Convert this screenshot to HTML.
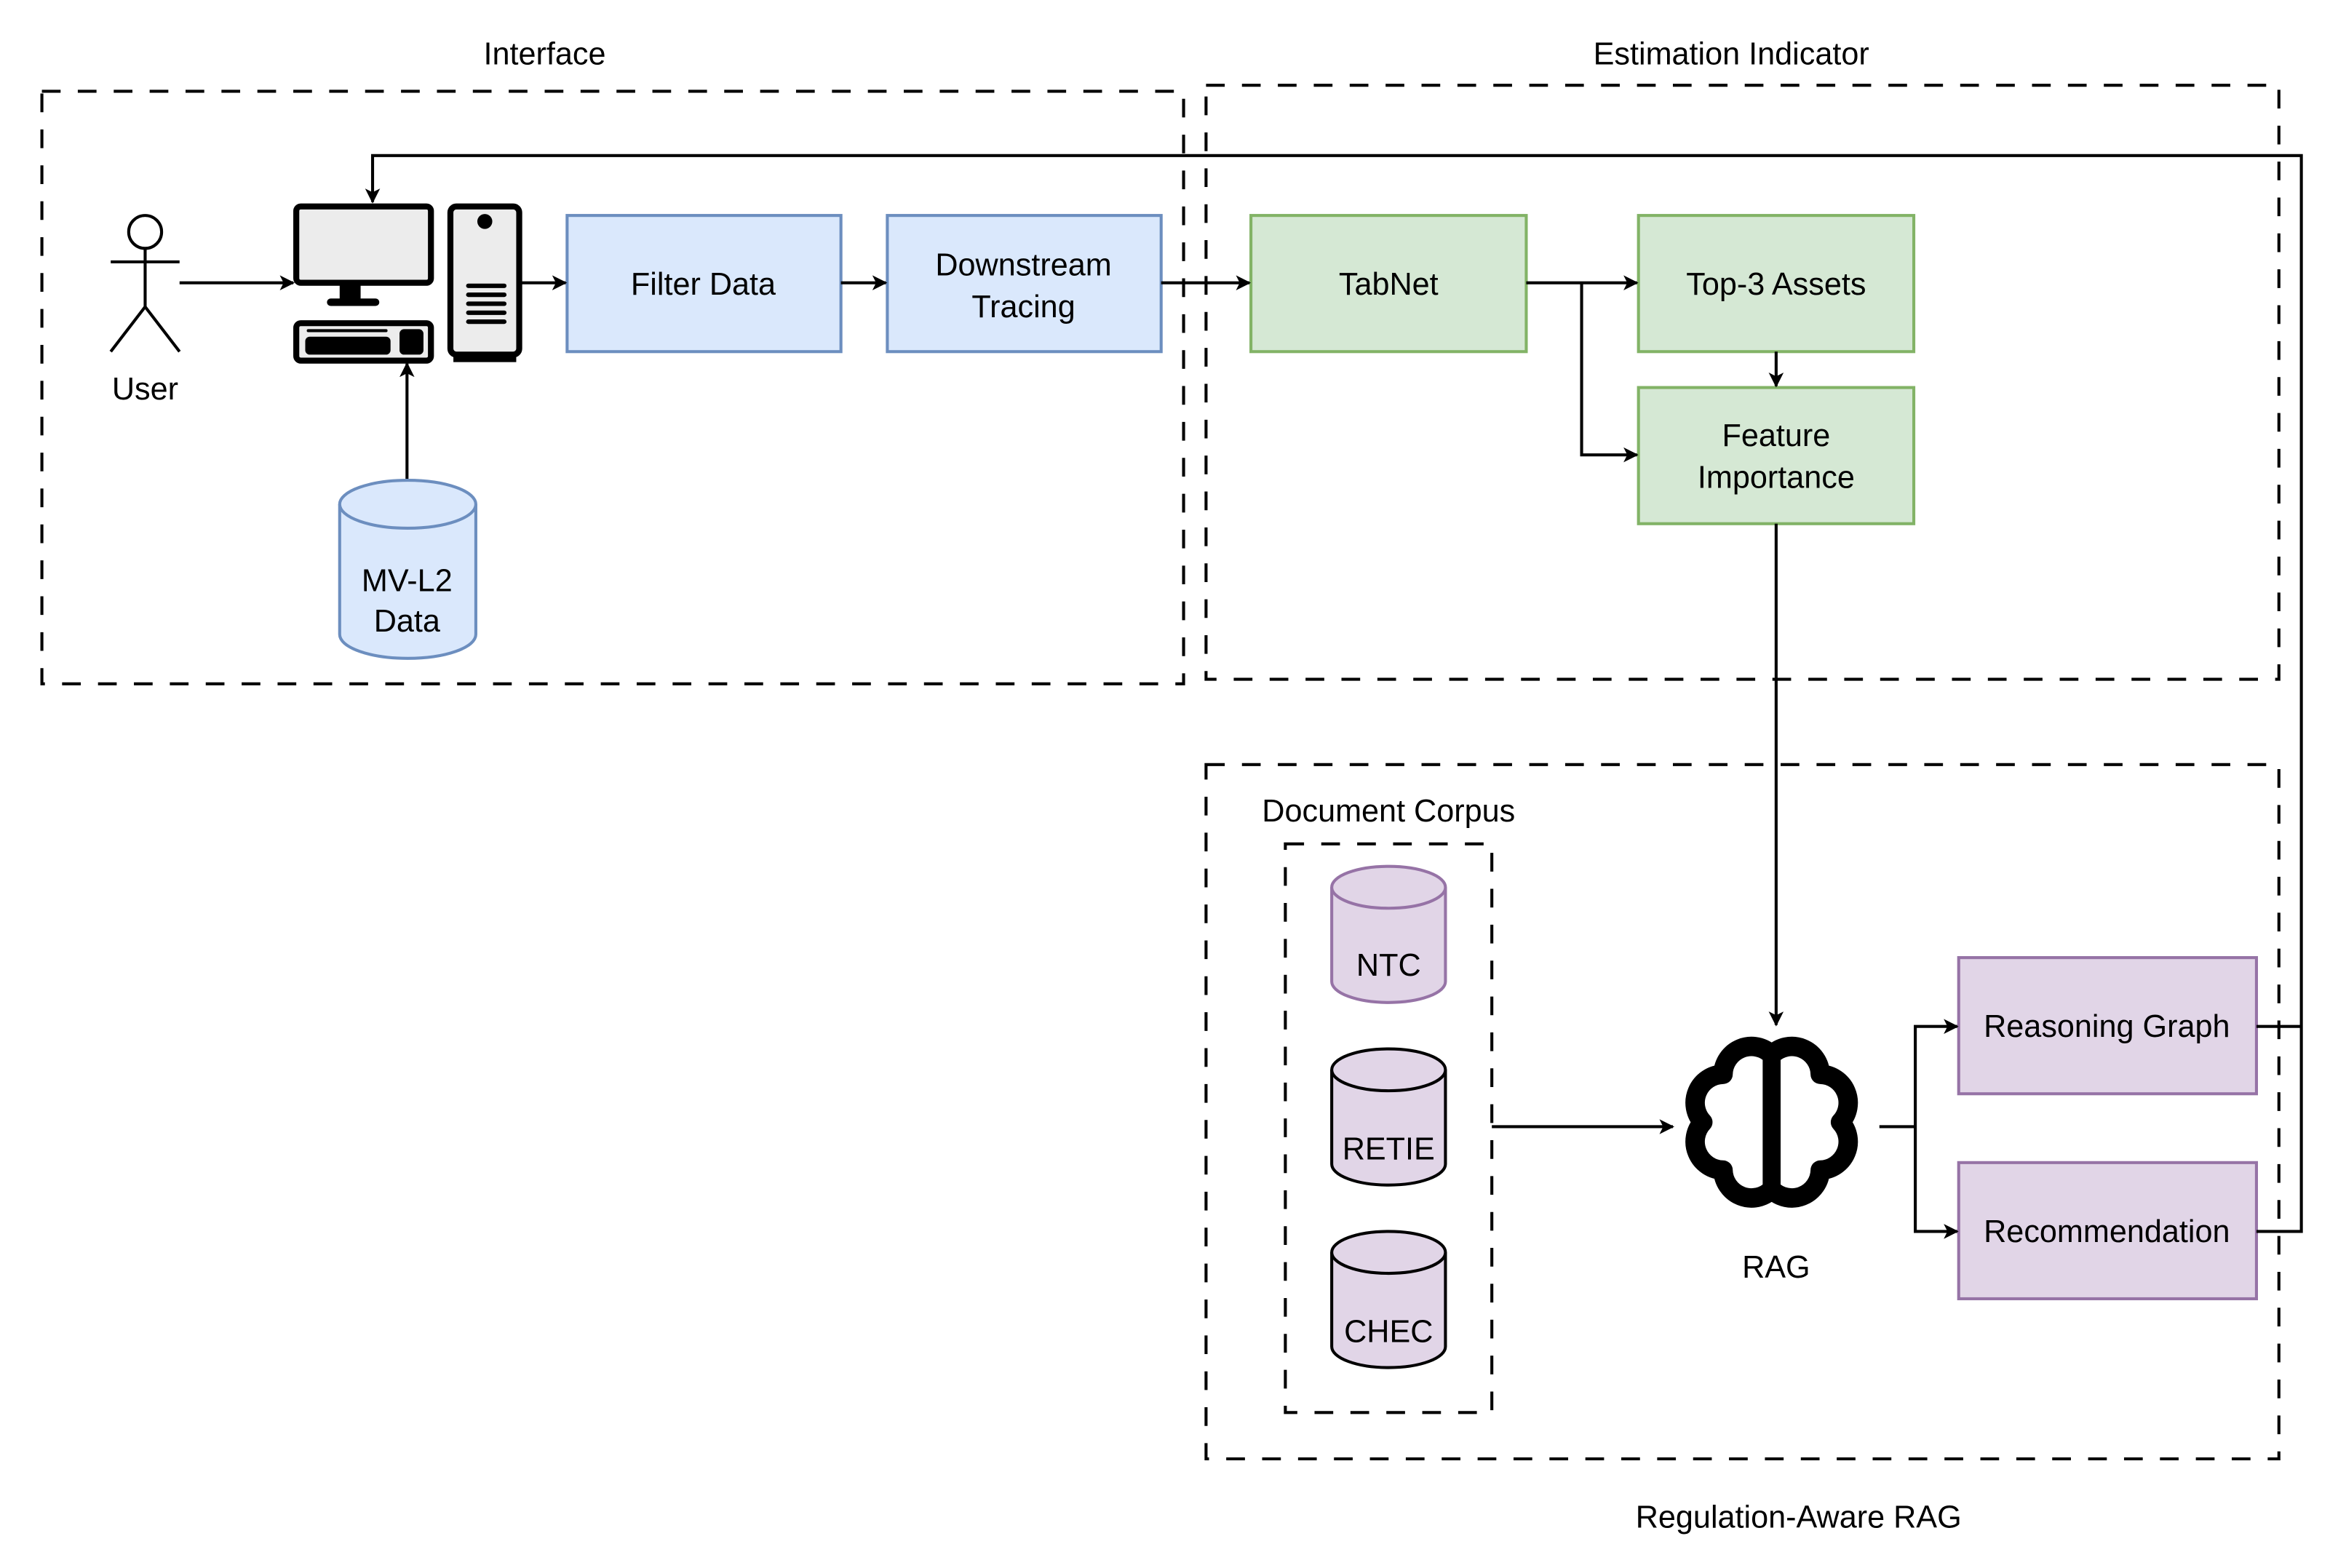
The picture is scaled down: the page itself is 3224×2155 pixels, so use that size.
<!DOCTYPE html>
<html><head><meta charset="utf-8"><style>html,body{margin:0;padding:0;background:#fff}svg{display:block}</style></head><body>
<svg width="3224" height="2155" viewBox="0 0 1560 1042.7" preserveAspectRatio="none" xmlns="http://www.w3.org/2000/svg" font-family="Liberation Sans, sans-serif" font-size="21">
<defs><marker id="a" markerWidth="10" markerHeight="10" refX="9" refY="5" orient="auto" markerUnits="userSpaceOnUse"><path d="M0,0 L10,5 L0,10 L2.5,5 Z" fill="#000"/></marker></defs>
<g transform="scale(0.995)">
<g fill="none" stroke="#000" stroke-width="2" stroke-dasharray="12.5,11.5">
<rect x="28" y="61" width="763" height="396"/>
<rect x="806" y="57" width="717" height="397"/>
<rect x="806" y="511" width="717" height="464"/>
<rect x="859" y="564" width="138" height="380"/>
</g>
<g text-anchor="middle" fill="#000">
<text x="364" y="43">Interface</text>
<text x="1157" y="43">Estimation Indicator</text>
<text x="1202" y="1021">Regulation-Aware RAG</text>
<text x="928" y="549">Document Corpus</text>
<text x="97" y="267">User</text>
<text x="1187" y="854">RAG</text>
</g>
<g stroke="#000" stroke-width="2" fill="none">
<circle cx="97" cy="155" r="11" fill="#fff"/>
<line x1="97" y1="166" x2="97" y2="205"/>
<line x1="74" y1="175" x2="120" y2="175"/>
<line x1="97" y1="205" x2="74" y2="235"/><line x1="97" y1="205" x2="120" y2="235"/>
</g>
<g stroke="#000" stroke-width="4">
<rect x="198" y="138" width="90" height="51" rx="3" fill="#ececec"/>
<rect x="229" y="189" width="10" height="12" fill="#000"/>
<line x1="221" y1="202" x2="251" y2="202" stroke-width="5" stroke-linecap="round"/>
<rect x="198" y="216" width="90" height="25" rx="3" fill="#ececec"/>
<rect x="301" y="138" width="46" height="99" rx="4" fill="#ececec"/>
</g>
<rect x="303" y="237" width="42" height="5" fill="#000"/>
<circle cx="324" cy="148" r="5" fill="#000"/>
<g stroke="#000" stroke-width="3" stroke-linecap="round">
<line x1="313" y1="191" x2="337" y2="191"/><line x1="313" y1="197" x2="337" y2="197"/><line x1="313" y1="203" x2="337" y2="203"/><line x1="313" y1="209" x2="337" y2="209"/><line x1="313" y1="215" x2="337" y2="215"/>
<line x1="206" y1="221" x2="258" y2="221" stroke-width="2"/>
</g>
<rect x="204" y="225" width="57" height="12" rx="3" fill="#000"/>
<rect x="267" y="220" width="16" height="17" rx="3" fill="#000"/>
<g stroke-width="2">
<rect x="379" y="144" width="183" height="91" fill="#dae8fc" stroke="#6c8ebf"/>
<rect x="593" y="144" width="183" height="91" fill="#dae8fc" stroke="#6c8ebf"/>
<rect x="836" y="144" width="184" height="91" fill="#d5e8d4" stroke="#82b366"/>
<rect x="1095" y="144" width="184" height="91" fill="#d5e8d4" stroke="#82b366"/>
<rect x="1095" y="259" width="184" height="91" fill="#d5e8d4" stroke="#82b366"/>
<rect x="1309" y="640" width="199" height="91" fill="#e1d5e7" stroke="#9673a6"/>
<rect x="1309" y="777" width="199" height="91" fill="#e1d5e7" stroke="#9673a6"/>
</g>
<g text-anchor="middle">
<text x="470" y="197">Filter Data</text>
<text x="684" y="184">Downstream</text><text x="684" y="212">Tracing</text>
<text x="928" y="197">TabNet</text>
<text x="1187" y="197">Top-3 Assets</text>
<text x="1187" y="298">Feature</text><text x="1187" y="326">Importance</text>
<text x="1408" y="693">Reasoning Graph</text>
<text x="1408" y="830">Recommendation</text>
</g>
<g stroke-width="2">
<path d="M227,337 v87 a45.5,16 0 0 0 91,0 v-87" fill="#dae8fc" stroke="#6c8ebf"/>
<ellipse cx="272.5" cy="337" rx="45.5" ry="16" fill="#dae8fc" stroke="#6c8ebf"/>
<path d="M890,593 v63 a38,14 0 0 0 76,0 v-63" fill="#e1d5e7" stroke="#9673a6"/>
<ellipse cx="928" cy="593" rx="38" ry="14" fill="#e1d5e7" stroke="#9673a6"/>
<path d="M890,715 v63 a38,14 0 0 0 76,0 v-63" fill="#e1d5e7" stroke="#000"/>
<ellipse cx="928" cy="715" rx="38" ry="14" fill="#e1d5e7" stroke="#000"/>
<path d="M890,837 v63 a38,14 0 0 0 76,0 v-63" fill="#e1d5e7" stroke="#000"/>
<ellipse cx="928" cy="837" rx="38" ry="14" fill="#e1d5e7" stroke="#000"/>
</g>
<g text-anchor="middle">
<text x="272" y="395">MV-L2</text><text x="272" y="422">Data</text>
<text x="928" y="652">NTC</text>
<text x="928" y="775">RETIE</text>
<text x="928" y="897">CHEC</text>
</g>
<g stroke="#000" fill="none">
<path d="M1184,705 A19,19 0 0 1 1216.5,718 A19,19 0 0 1 1230,750 A19,19 0 0 1 1216.5,782 A19,19 0 0 1 1184,795 A19,19 0 0 1 1151.5,782 A19,19 0 0 1 1138,750 A19,19 0 0 1 1151.5,718 A19,19 0 0 1 1184,705 Z" stroke-width="13" stroke-linejoin="round"/>
<line x1="1184" y1="705" x2="1184" y2="795" stroke-width="12"/>
</g>
<g stroke="#000" stroke-width="2" fill="none">
<line x1="120" y1="189" x2="196" y2="189" marker-end="url(#a)"/>
<line x1="348" y1="189" x2="378" y2="189" marker-end="url(#a)"/>
<line x1="562" y1="189" x2="592" y2="189" marker-end="url(#a)"/>
<line x1="776" y1="189" x2="835" y2="189" marker-end="url(#a)"/>
<line x1="1020" y1="189" x2="1094" y2="189" marker-end="url(#a)"/>
<polyline points="1057,189 1057,304 1094,304" marker-end="url(#a)"/>
<line x1="1187" y1="235" x2="1187" y2="258" marker-end="url(#a)"/>
<line x1="1187" y1="350" x2="1187" y2="685" marker-end="url(#a)"/>
<line x1="272" y1="320" x2="272" y2="243" marker-end="url(#a)"/>
<line x1="997" y1="753" x2="1118" y2="753" marker-end="url(#a)"/>
<polyline points="1256,753 1280,753"/>
<polyline points="1280,753 1280,686 1308,686" marker-end="url(#a)"/>
<polyline points="1280,753 1280,823 1308,823" marker-end="url(#a)"/>
<polyline points="1508,686 1538,686"/>
<polyline points="1508,823 1538,823 1538,104 249,104 249,135" marker-end="url(#a)"/>
</g>
</g>
</svg>
</body></html>
